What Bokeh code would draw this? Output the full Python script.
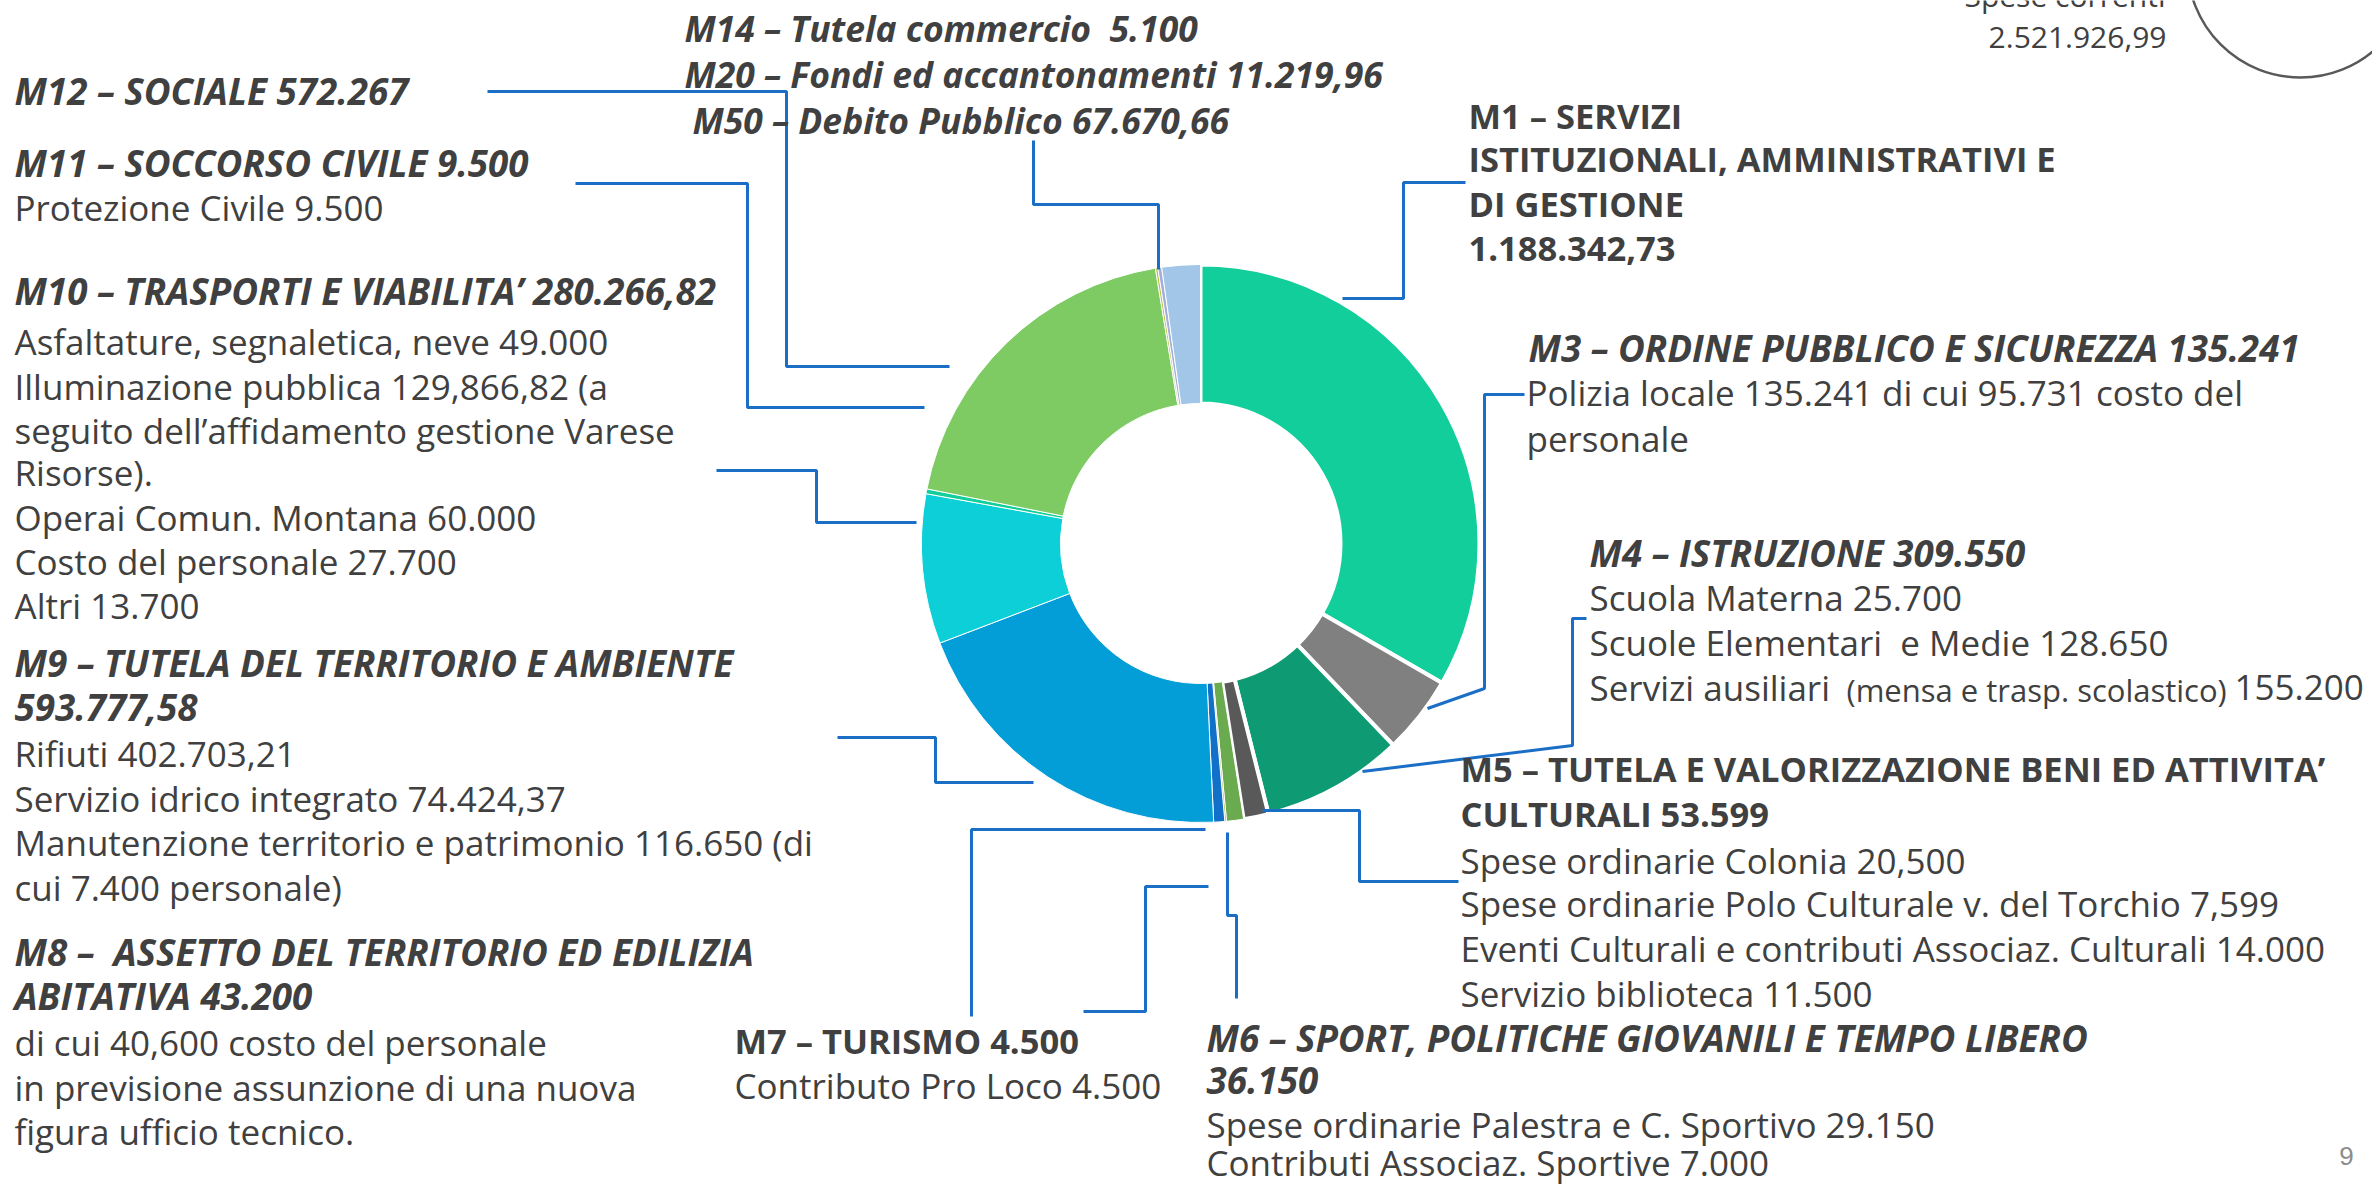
import numpy as np
import pandas as pd
from bokeh.plotting import figure
from bokeh.models import Range1d, ColumnDataSource
from bokeh.core.properties import value
from bokeh.embed import file_html
from bokeh.resources import INLINE

# ---------------- data ----------------
missions = ["M1", "M3", "M4", "M5", "M6", "M7", "M8", "M9", "M10", "M11", "M12", "M14", "M20", "M50"]
# slice sizes as drawn in the picture (EUR, estimated from the ring)
slice_values = [1103500, 149900, 272200, 47800, 32600, 3200, 21100, 660200,
                286900, 9200, 638200, 4600, 7400, 73600]
colors = ["#12CE9A", "#808080", "#0E9A72", "#595959", "#6AAB4F", "#A5A83A", "#1170C8",
          "#039ED8", "#0DCFD8", "#12CE9A", "#7ECB64", "#B9C24A", "#A3AEDC", "#A1C6E7"]
outline_w = [4, 4, 4, 4, 1, 1, 1, 1, 1, 1, 1, 1, 1, 1]

W, H = 2372, 1189  # data coords == page pixels (y flipped)
CX, CY = 1200, 543
R_OUT, R_IN = 279, 140

df = pd.DataFrame({"mission": missions, "amount": slice_values, "color": colors, "lw": outline_w})
frac = df["amount"] / df["amount"].sum()
cum = frac.cumsum()
df["start"] = np.pi / 2 - (cum - frac) * 2 * np.pi
df["end"] = np.pi / 2 - cum * 2 * np.pi
df["x"] = CX
df["y"] = H - CY

p = figure(width=W, height=H, x_range=Range1d(0, W), y_range=Range1d(0, H),
           output_backend="svg", toolbar_location=None, min_border=0)
p.axis.visible = False
p.grid.visible = False
p.outline_line_color = None
p.background_fill_color = "white"

p.annular_wedge(x="x", y="y", inner_radius=R_IN, outer_radius=R_OUT,
                start_angle="start", end_angle="end", direction="clock",
                fill_color="color", line_color="white", line_width="lw",
                source=ColumnDataSource(df))

# ---------------- leader lines (pixel coords of reference) ----------------
leaders = [
    [(487, 91), (786, 91), (786, 366), (949, 366)],        # M12
    [(575, 183), (747, 183), (747, 407), (924, 407)],      # M11
    [(716, 470), (816, 470), (816, 522), (916, 522)],      # M10
    [(837, 737), (935, 737), (935, 782), (1033, 782)],     # M9
    [(971, 1016), (971, 829), (1205, 829)],                # M7
    [(1083, 1011), (1145, 1011), (1145, 886), (1208, 886)],  # M8
    [(1227, 832), (1227, 915), (1236, 915), (1236, 998)],  # M6
    [(1262, 810), (1359, 810), (1359, 881), (1458, 881)],  # M5
    [(1362, 771), (1572, 745), (1572, 618), (1586, 618)],  # M4
    [(1427, 708), (1484, 688), (1484, 394), (1524, 394)],  # M3
    [(1342, 298), (1403, 298), (1403, 182), (1465, 182)],  # M1
    [(1033, 140), (1033, 204), (1158, 204), (1158, 269)],  # M50
]
p.multi_line(xs=[[a for a, b in L] for L in leaders],
             ys=[[H - b for a, b in L] for L in leaders],
             line_color="#1B6EC6", line_width=3)

# ---------------- texts ----------------
TXT = "#404040"
FONT = "Open Sans"
NB = "\u00a0"
# (x, pixel y centre, text, style)  t = top italic, h = bold italic, b = bold, r = regular
texts = [
    (684, 27, "M14 – Tutela commercio " + NB + "5.100", "t"),
    (684, 73, "M20 – Fondi ed accantonamenti 11.219,96", "t"),
    (692, 119, "M50 – Debito Pubblico 67.670,66", "t"),
    (14, 90, "M12 – SOCIALE 572.267", "h"),
    (14, 162, "M11 – SOCCORSO CIVILE 9.500", "h"),
    (14, 207, "Protezione Civile 9.500", "r"),
    (14, 290, "M10 – TRASPORTI E VIABILITA’ 280.266,82", "h"),
    (14, 341, "Asfaltature, segnaletica, neve 49.000", "r"),
    (14, 386, "Illuminazione pubblica 129,866,82 (a", "r"),
    (14, 430, "seguito dell’affidamento gestione Varese", "r"),
    (14, 472, "Risorse).", "r"),
    (14, 517, "Operai Comun. Montana 60.000", "r"),
    (14, 561, "Costo del personale 27.700", "r"),
    (14, 605, "Altri 13.700", "r"),
    (14, 662, "M9 – TUTELA DEL TERRITORIO E AMBIENTE", "h"),
    (14, 707, "593.777,58", "h"),
    (14, 753, "Rifiuti 402.703,21", "r"),
    (14, 798, "Servizio idrico integrato 74.424,37", "r"),
    (14, 842, "Manutenzione territorio e patrimonio 116.650 (di", "r"),
    (14, 887, "cui 7.400 personale)", "r"),
    (14, 951, "M8 – " + NB + "ASSETTO DEL TERRITORIO ED EDILIZIA", "h"),
    (14, 995, "ABITATIVA 43.200", "h"),
    (14, 1042, "di cui 40,600 costo del personale", "r"),
    (14, 1087, "in previsione assunzione di una nuova", "r"),
    (14, 1131, "figura ufficio tecnico.", "r"),
    (734, 1040, "M7 – TURISMO 4.500", "b"),
    (734, 1085, "Contributo Pro Loco 4.500", "r"),
    (1206, 1037, "M6 – SPORT, POLITICHE GIOVANILI E TEMPO LIBERO", "h"),
    (1206, 1080, "36.150", "h"),
    (1206, 1124, "Spese ordinarie Palestra e C. Sportivo 29.150", "r"),
    (1206, 1162, "Contributi Associaz. Sportive 7.000", "r"),
    (1468, 115, "M1 – SERVIZI", "b"),
    (1468, 158, "ISTITUZIONALI, AMMINISTRATIVI E", "b"),
    (1468, 203, "DI GESTIONE", "b"),
    (1468, 248, "1.188.342,73", "b"),
    (1528, 347, "M3 – ORDINE PUBBLICO E SICUREZZA 135.241", "h"),
    (1526, 392, "Polizia locale 135.241 di cui 95.731 costo del", "r"),
    (1526, 438, "personale", "r"),
    (1589, 552, "M4 – ISTRUZIONE 309.550", "h"),
    (1589, 597, "Scuola Materna 25.700", "r"),
    (1589, 642, "Scuole Elementari " + NB + "e Medie 128.650", "r"),
    (1589, 687, "Servizi ausiliari", "r"),
    (2234, 687, "155.200", "r"),
    (1460, 768, "M5 – TUTELA E VALORIZZAZIONE BENI ED ATTIVITA’", "b"),
    (1460, 813, "CULTURALI 53.599", "b"),
    (1460, 860, "Spese ordinarie Colonia 20,500", "r"),
    (1460, 903, "Spese ordinarie Polo Culturale v. del Torchio 7,599", "r"),
    (1460, 948, "Eventi Culturali e contributi Associaz. Culturali 14.000", "r"),
    (1460, 993, "Servizio biblioteca 11.500", "r"),
]
styles = {"t": ("bold italic", "35.5px"), "h": ("bold italic", "36.8px"),
          "b": ("bold", "34.5px"), "r": ("normal", "35px")}
for key, (fs, size) in styles.items():
    sel = [t for t in texts if t[3] == key]
    p.text(x=[t[0] for t in sel], y=[H - t[1] for t in sel], text=[t[2] for t in sel],
           text_font=value(FONT), text_font_style=fs, text_font_size=size,
           text_color=TXT, text_baseline="middle", text_align="left")

# smaller parenthetical in M4 line
p.text(x=[1846], y=[H - 689], text=["(mensa e trasp. scolastico)"], text_font=value(FONT),
       text_font_size="31px", text_color=TXT, text_baseline="middle")

# top-right total
p.text(x=[2165, 2166], y=[H - (-5), H - 37], text=["Spese correnti", "2.521.926,99"],
       text_font=value(FONT), text_font_size="30px", text_color=TXT,
       text_baseline="middle", text_align="right")
p.circle(x=[2300], y=[H + 36], radius=113, fill_color=None, line_color="#595959", line_width=2.5)

# page number
p.text(x=[2346], y=[H - 1155], text=["9"], text_font=value("Liberation Sans"),
       text_font_size="26px", text_color="#8C8C8C", text_baseline="middle", text_align="center")

open("out.html", "w").write(file_html(p, INLINE))
